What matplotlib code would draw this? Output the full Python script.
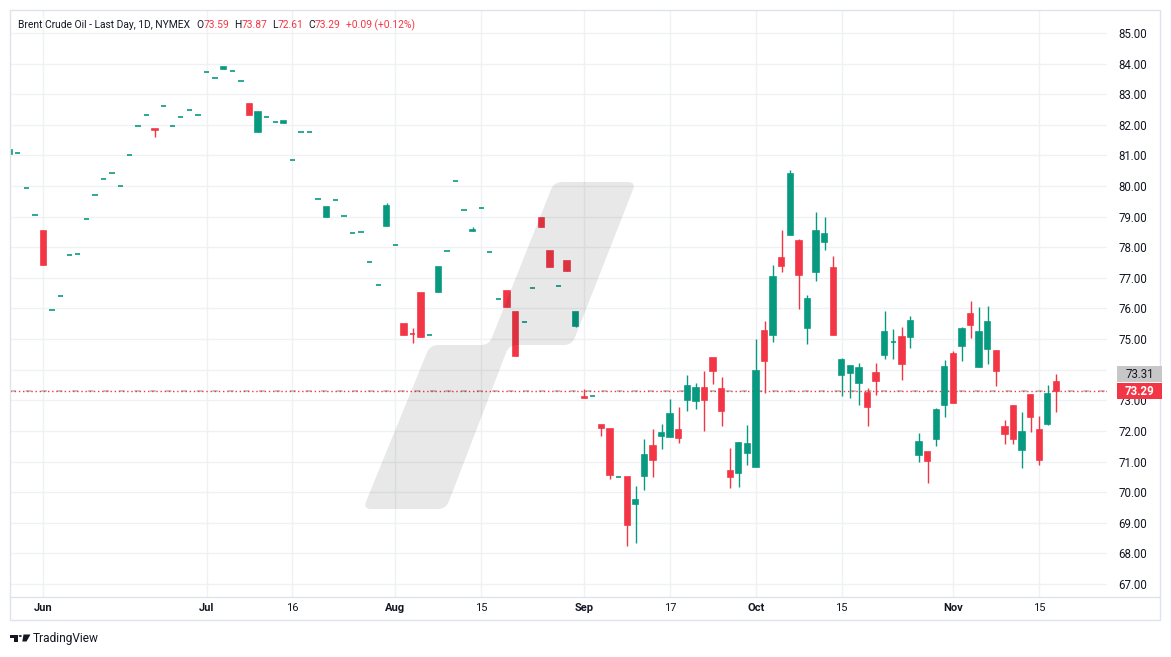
import numpy as np
import pandas as pd
import matplotlib
matplotlib.use('Agg')
import matplotlib.pyplot as plt
from matplotlib.path import Path
from matplotlib.patches import PathPatch, Rectangle, Polygon, Circle
from matplotlib.lines import Line2D

plt.rcParams['font.family'] = ['Roboto', 'DejaVu Sans']

# daily bars, Brent Last Day (NYMEX); exchange holidays are skipped
dates = pd.bdate_range('2024-05-28', '2024-11-19', freq='C',
                       holidays=['2024-06-19', '2024-07-04', '2024-09-02'])

opens = [81.04, 81.09, 79.92, 79.07,
         78.52, 75.96, 76.42, 77.76, 77.79, 78.93, 79.72, 80.24, 80.41, 80.01,
         81.00, 81.97, 82.33, 81.86, 82.63, 81.97, 82.27, 82.50, 82.33,
         83.71, 83.54, 83.81, 83.77, 83.44, 82.67, 81.76, 82.27, 82.10, 82.05,
         80.86, 81.75, 81.78, 79.59, 78.98, 79.56, 79.03, 78.48, 78.51, 77.53,
         76.78, 78.68,
         78.08, 75.48, 75.18, 76.49, 75.14, 76.53, 77.89, 80.18, 79.23, 78.53,
         79.29, 77.86, 76.32, 76.56, 75.87, 75.57, 76.68, 78.95, 77.87, 76.74,
         77.54, 75.42,
         73.12, 73.13, 72.19, 72.06, 70.48, 70.49, 69.62, 70.53, 71.50, 71.84,
         71.81, 72.03, 73.02, 72.98, 73.40, 74.38, 73.37, 70.69, 70.63, 71.29,
         70.83, 75.26, 75.14, 77.65, 78.41, 78.20, 75.36, 77.20, 78.18, 77.32,
         73.83, 73.90, 73.57, 73.23, 73.89, 74.49, 74.89, 75.06, 75.07, 71.22,
         71.30, 71.74, 72.85,
         74.51, 74.78, 75.81, 74.09, 74.68, 74.61, 72.12, 72.81, 71.38, 73.17,
         72.02, 72.23, 73.59]
highs = [81.17, 81.09, 79.92, 79.07,
         78.52, 75.96, 76.42, 77.76, 77.79, 78.93, 79.72, 80.24, 80.41, 80.01,
         81.00, 81.97, 82.33, 81.86, 82.63, 81.97, 82.27, 82.50, 82.33,
         83.71, 83.54, 83.88, 83.77, 83.44, 82.70, 82.41, 82.27, 82.10, 82.12,
         80.86, 81.75, 81.78, 79.59, 79.31, 79.56, 79.03, 78.48, 78.51, 77.53,
         76.78, 79.44,
         78.08, 75.48, 75.35, 76.49, 75.14, 77.34, 77.89, 80.18, 79.23, 78.65,
         79.29, 77.86, 76.32, 76.56, 75.87, 75.57, 76.68, 78.95, 77.87, 76.74,
         77.54, 75.87,
         73.37, 73.13, 72.19, 72.06, 70.48, 70.49, 70.20, 71.73, 72.06, 72.22,
         73.04, 72.78, 73.82, 73.56, 73.95, 74.38, 73.76, 71.45, 71.63, 72.19,
         75.00, 75.59, 77.42, 78.56, 80.52, 78.27, 76.44, 79.15, 78.99, 77.71,
         74.38, 74.12, 74.21, 73.40, 74.21, 75.91, 75.32, 75.39, 75.75, 71.93,
         71.32, 72.74, 74.31,
         74.61, 75.39, 76.24, 76.04, 76.08, 74.64, 72.35, 72.84, 72.61, 73.20,
         72.48, 73.49, 73.87]
lows = [81.04, 81.09, 79.92, 79.07,
        77.42, 75.96, 76.42, 77.76, 77.79, 78.93, 79.72, 80.24, 80.41, 80.01,
        81.00, 81.97, 82.33, 81.59, 82.63, 81.97, 82.27, 82.50, 82.33,
        83.71, 83.54, 83.81, 83.77, 83.44, 82.31, 81.76, 82.27, 82.10, 82.05,
        80.86, 81.75, 81.78, 79.59, 78.98, 79.56, 79.03, 78.48, 78.51, 77.53,
        76.78, 78.68,
        78.08, 75.15, 74.86, 75.07, 75.14, 76.53, 77.89, 80.18, 79.23, 78.53,
        79.29, 77.86, 76.32, 76.04, 74.44, 75.57, 76.68, 78.65, 77.34, 76.74,
        77.24, 75.38,
        73.08, 73.13, 71.84, 70.44, 70.48, 68.25, 68.34, 70.08, 70.50, 71.42,
        71.80, 71.61, 72.66, 72.72, 72.00, 73.54, 72.17, 70.14, 70.17, 70.89,
        70.83, 73.25, 74.91, 77.20, 78.41, 75.99, 74.83, 76.90, 77.92, 75.14,
        73.15, 73.08, 72.85, 72.17, 73.17, 74.36, 74.36, 73.67, 74.71, 70.99,
        70.30, 71.51, 72.46,
        72.92, 74.29, 75.04, 74.09, 74.19, 73.47, 71.57, 71.57, 70.79, 71.97,
        70.89, 72.20, 72.61]
closes = [81.17, 81.09, 79.92, 79.07,
          77.42, 75.96, 76.42, 77.76, 77.79, 78.93, 79.72, 80.24, 80.41, 80.01,
          81.00, 81.97, 82.33, 81.84, 82.63, 81.97, 82.27, 82.50, 82.33,
          83.71, 83.54, 83.88, 83.77, 83.44, 82.31, 82.41, 82.27, 82.10, 82.12,
          80.86, 81.75, 81.78, 79.59, 79.31, 79.56, 79.03, 78.48, 78.51, 77.53,
          76.78, 79.34,
          78.08, 75.15, 75.16, 75.07, 75.14, 77.34, 77.89, 80.18, 79.23, 78.55,
          79.29, 77.86, 76.32, 76.04, 74.44, 75.57, 76.68, 78.65, 77.34, 76.74,
          77.24, 75.87,
          73.08, 73.13, 72.10, 70.57, 70.48, 68.93, 69.74, 71.21, 71.06, 71.93,
          72.55, 71.78, 73.46, 73.40, 73.02, 73.97, 72.66, 70.50, 71.60, 71.57,
          73.97, 74.29, 77.03, 77.40, 80.39, 77.10, 76.31, 78.53, 78.43, 75.14,
          74.31, 74.12, 74.05, 72.79, 73.64, 75.23, 74.91, 74.19, 75.59, 71.63,
          71.02, 72.68, 74.08,
          72.92, 75.32, 75.47, 75.23, 75.55, 73.96, 71.90, 71.74, 71.96, 72.46,
          71.05, 73.20, 73.29]

bid_price = 73.31
symbol = 'Brent Crude Oil - Last Day, 1D, NYMEX'

tick_dates = ['2024-06-03', '2024-07-01', '2024-07-16', '2024-08-01', '2024-08-15',
              '2024-09-03', '2024-09-17', '2024-10-01', '2024-10-15', '2024-11-01',
              '2024-11-15']
tick_labels = ['Jun', 'Jul', '16', 'Aug', '15', 'Sep', '17', 'Oct', '15', 'Nov', '15']
price_ticks = list(range(67, 86))

GREEN = '#089981'
RED = '#F23645'
TXT = '#131722'
GRID = '#eff1f4'
FRAME = '#e0e3eb'

W, H = 1171, 657
fig = plt.figure(figsize=(W / 100, H / 100), dpi=100)
fig.patch.set_facecolor('white')


def fx(px):
    return px / W


def fy(py):
    return 1 - py / H


ax = fig.add_axes([fx(10), fy(597), fx(1097), 587 / H])

o = np.array(opens)
h = np.array(highs)
l = np.array(lows)
c = np.array(closes)
x = np.arange(len(dates))
colors = np.where(c >= o, GREEN, RED)

ax.vlines(x, l, h, colors=colors, linewidth=1.0, zorder=3)
ax.bar(x, c - o, bottom=o, width=0.62, color=colors, edgecolor=colors,
       linewidth=1.2, zorder=4)

# last price and bid lines
ax.axhline(bid_price, color='#c3c3c3', linewidth=1.4, dashes=(3, 5), zorder=2)
ax.axhline(c[-1], color=RED, linewidth=1.0, dashes=(1, 2), zorder=2)

ax.set_xlim(0.1, 127.9)
ax.set_ylim(66.575, 85.751)

pos = [dates.get_loc(pd.Timestamp(d)) for d in tick_dates]
ax.set_xticks(pos)
ax.set_xticklabels(tick_labels)
for t in ax.get_xticklabels():
    if t.get_text().isalpha():
        t.set_fontweight('bold')
ax.yaxis.tick_right()
ax.set_yticks(price_ticks)
ax.set_yticklabels([f'{v:.2f}' for v in price_ticks])
ax.tick_params(axis='x', length=0, pad=4.5, labelsize=8, labelcolor=TXT)
ax.tick_params(axis='y', length=0, pad=8, labelsize=8.3, labelcolor=TXT)
ax.grid(True, color=GRID, linewidth=1.0, zorder=0)
ax.set_axisbelow(True)
for s in ax.spines.values():
    s.set_visible(False)


# TradingView watermark, drawn on top with transparency
def rounded_path(pts, r):
    pts = np.asarray(pts, float)
    n = len(pts)
    verts, codes = [], []
    for k in range(n):
        p, a, b = pts[k], pts[k - 1], pts[(k + 1) % n]
        da = (a - p) / np.hypot(*(a - p))
        db = (b - p) / np.hypot(*(b - p))
        verts.append(p + da * r)
        codes.append(Path.MOVETO if k == 0 else Path.LINETO)
        verts += [p, p + db * r]
        codes += [Path.CURVE3, Path.CURVE3]
    verts.append(verts[0])
    codes.append(Path.CLOSEPOLY)
    verts = [(fx(v[0]), fy(v[1])) for v in verts]
    return Path(verts, codes)


mark = [(554, 182), (636, 182), (572, 345), (509, 345),
        (446, 509), (363, 509), (430, 345), (489, 345)]
ax.add_patch(PathPatch(rounded_path(mark, 8), transform=fig.transFigure,
                       facecolor='black', alpha=0.09, edgecolor='none',
                       zorder=6, clip_on=False))

# frame and separators
fig.add_artist(Rectangle((fx(10), fy(620)), fx(1150), 610 / H, transform=fig.transFigure,
                         fill=False, edgecolor=FRAME, linewidth=1.0))
fig.add_artist(Line2D([fx(10), fx(1160)], [fy(597), fy(597)], transform=fig.transFigure,
                      color=FRAME, linewidth=1.0))

# price labels on the scale (they sit over the 73.00 / 74.00 ticks, as in the app)
fig.canvas.draw()
y_last = ax.transData.transform((0, c[-1]))[1] / H
bh = 16 / H
fig.add_artist(Rectangle((fx(1117), y_last - bh / 2), fx(45), bh, transform=fig.transFigure,
                         facecolor=RED, edgecolor='none'))
fig.text(fx(1139.5), y_last, f'{c[-1]:.2f}', color='white', fontsize=8.3,
         fontweight='bold', ha='center', va='center')
fig.add_artist(Rectangle((fx(1117), y_last + bh / 2 + 1 / H), fx(45), bh,
                         transform=fig.transFigure, facecolor='#c7c7c7', edgecolor='none'))
fig.text(fx(1139.5), y_last + bh + 1 / H, f'{bid_price:.2f}', color=TXT, fontsize=8.3,
         ha='center', va='center')

# header line
chg = c[-1] - c[-2]
pieces = [(symbol, TXT, 6), ('O', TXT, 0), (f'{o[-1]:.2f}', RED, 5),
          ('H', TXT, 0), (f'{h[-1]:.2f}', RED, 5), ('L', TXT, 0), (f'{l[-1]:.2f}', RED, 5),
          ('C', TXT, 0), (f'{c[-1]:.2f}', RED, 5),
          (f'{chg:+.2f} ({chg / c[-2] * 100:+.2f}%)', RED, 0)]
renderer = fig.canvas.get_renderer()
cur = 18
for txt, col, gap in pieces:
    t = fig.text(fx(cur), fy(25), txt, color=col, fontsize=7.4, va='center', ha='left')
    cur += t.get_window_extent(renderer).width + gap

# TradingView logo
fig.add_artist(Polygon([(fx(10), fy(634.5)), (fx(18), fy(634.5)), (fx(18), fy(641.5)),
                        (fx(14), fy(641.5)), (fx(14), fy(637.5)), (fx(10), fy(637.5))],
                       closed=True, transform=fig.transFigure, facecolor=TXT, edgecolor='none'))
fig.add_artist(Circle((fx(20.3), fy(636)), 1.6 / W, transform=fig.transFigure,
                      facecolor=TXT, edgecolor='none'))
fig.add_artist(Polygon([(fx(23.5), fy(634.5)), (fx(30.5), fy(634.5)), (fx(26.5), fy(641.5)),
                        (fx(22.3), fy(641.5))],
                       closed=True, transform=fig.transFigure, facecolor=TXT, edgecolor='none'))
fig.text(fx(33), fy(638.5), 'TradingView', color=TXT, fontsize=8.6, va='center', ha='left')

fig.savefig('out.png', dpi=100, facecolor='white')
